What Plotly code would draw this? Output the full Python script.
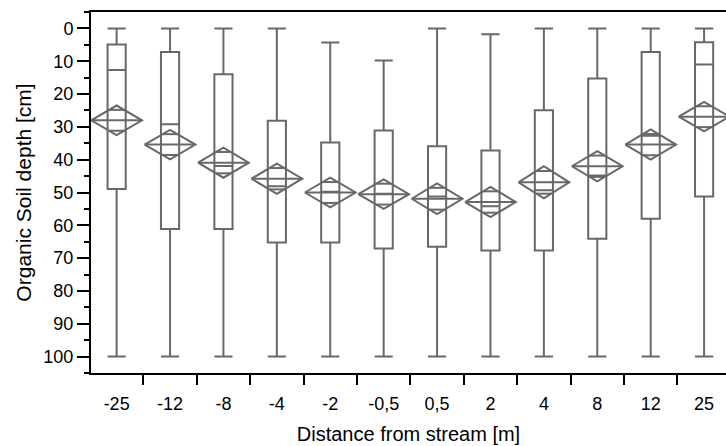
import plotly.graph_objects as go

# ---- data ----
categories = ["-25", "-12", "-8", "-4", "-2", "-0,5", "0,5", "2", "4", "8", "12", "25"]
whisker_top = [0, 0, 0, 0, 4.3, 9.8, 0, 1.8, 0, 0, 0, 0]
box_top = [4.9, 7.2, 14.0, 28.1, 34.8, 31.1, 35.9, 37.2, 24.9, 15.3, 7.2, 4.2]
medians = [12.7, 29.2, 41.9, 48.1, 49.8, 50.4, 51.2, 54.2, 49.3, 44.8, 32.7, 11.0]
box_bottom = [48.9, 61.1, 61.1, 65.2, 65.2, 67.1, 66.5, 67.7, 67.7, 64.1, 58.0, 51.2]
whisker_bottom = [100, 100, 100, 100, 100, 100, 100, 100, 100, 100, 100, 100]
means = [28.0, 35.4, 40.9, 45.8, 50.0, 50.5, 51.9, 52.9, 46.9, 42.0, 35.4, 26.9]
ci_half = [4.5, 4.5, 4.6, 4.6, 4.5, 4.5, 4.7, 4.6, 4.9, 4.6, 4.6, 4.5]
y_ticks = [0, 10, 20, 30, 40, 50, 60, 70, 80, 90, 100]

GRAY = "rgb(104,104,104)"
FONT = "Liberation Sans, Arial, sans-serif"
DIAMOND_HALF_W = 0.475
BOX_W = 0.34

fig = go.Figure()

fig.add_trace(go.Box(
    x=categories,
    lowerfence=whisker_top,
    q1=box_top,
    median=medians,
    q3=box_bottom,
    upperfence=whisker_bottom,
    width=BOX_W,
    whiskerwidth=1,
    boxpoints=False,
    fillcolor="rgba(0,0,0,0)",
    line=dict(color=GRAY, width=2),
    hoverinfo="skip",
    showlegend=False,
))

# means diamonds (drawn on an overlaid numeric axis aligned with category index)
dx, dy = [], []
k = 2 ** -0.5
for i, (m, h) in enumerate(zip(means, ci_half)):
    w = DIAMOND_HALF_W
    dx += [i - w, i, i + w, i, i - w, None]
    dy += [m, m - h, m, m + h, m, None]
    dx += [i - w, i + w, None]
    dy += [m, m, None]
    sw = w * (1 - k)
    for s in (-1, 1):
        dx += [i - sw, i + sw, None]
        dy += [m + s * h * k, m + s * h * k, None]

fig.add_trace(go.Scatter(
    x=dx, y=dy, xaxis="x2", mode="lines",
    line=dict(color=GRAY, width=2),
    hoverinfo="skip", showlegend=False,
))

xr = [-0.48, 11.41]
fig.update_layout(
    width=726, height=446,
    margin=dict(l=91, r=0, t=12, b=73),
    paper_bgcolor="white", plot_bgcolor="white",
    font=dict(family=FONT, color="black", size=18),
    xaxis=dict(
        type="category", categoryorder="array", categoryarray=categories,
        range=xr, tickson="boundaries",
        ticks="outside", ticklen=10, tickwidth=2, tickcolor="black",
        ticklabelstandoff=13,
        showline=True, linecolor="black", linewidth=2, mirror=True,
        showgrid=False, zeroline=False,
        tickfont=dict(size=18, family=FONT),
        title=dict(text="Distance from stream [m]", font=dict(size=20, family=FONT), standoff=14),
    ),
    xaxis2=dict(
        overlaying="x", range=xr, visible=False, showgrid=False, zeroline=False,
    ),
    yaxis=dict(
        range=[105, -5], tickmode="array", tickvals=y_ticks,
        ticks="outside", ticklen=12, tickwidth=2, tickcolor="black",
        minor=dict(ticks="outside", ticklen=5, tickwidth=2, dtick=5, tick0=0, tickcolor="black"),
        showline=True, linecolor="black", linewidth=2,
        showgrid=False, zeroline=False,
        tickfont=dict(size=18, family=FONT),
        title=dict(text="Organic Soil depth [cm]", font=dict(size=21, family=FONT), standoff=6),
    ),
)

fig.write_html("out.html")
